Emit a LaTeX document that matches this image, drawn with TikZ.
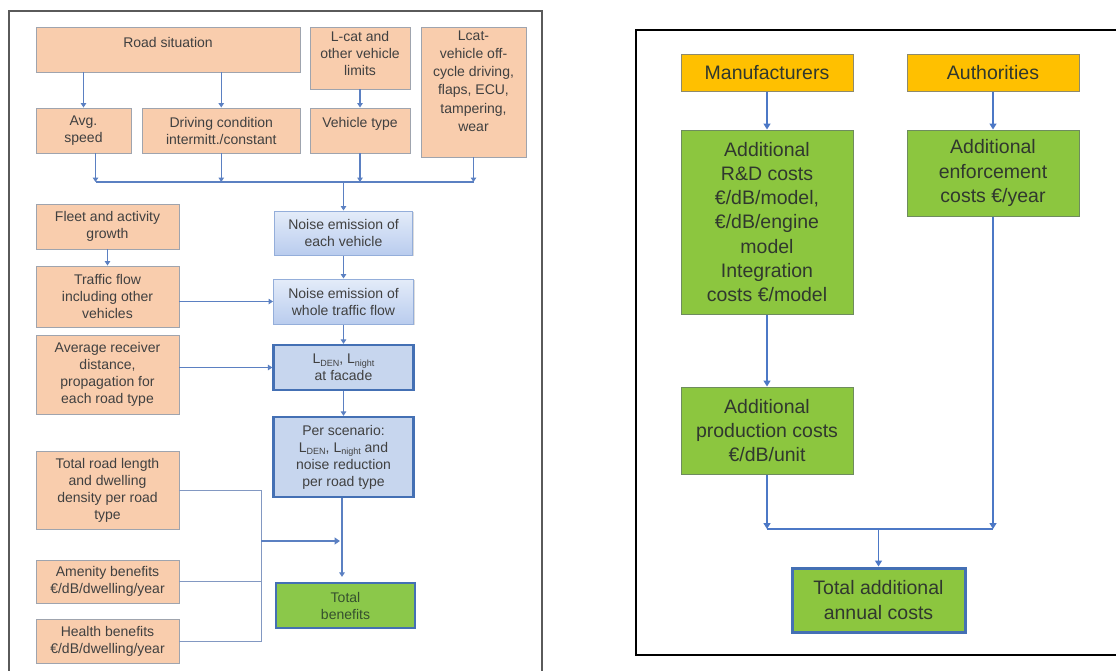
\documentclass[tikz,border=0pt]{standalone}
\usepackage{fontspec}
\setmainfont{Liberation Sans}
\usetikzlibrary{arrows.meta,shadows}

\definecolor{peach}{HTML}{F9CDAD}
\definecolor{peachline}{HTML}{9FA4AE}
\definecolor{blueA}{HTML}{E4ECF9}
\definecolor{blueB}{HTML}{B9CCEE}
\definecolor{blueline}{HTML}{94AEDA}
\definecolor{blueC}{HTML}{C7D6EE}
\definecolor{darkblue}{HTML}{4470B4}
\definecolor{greenA}{HTML}{8BC84A}
\definecolor{greenB}{HTML}{8CC63F}
\definecolor{greenline}{HTML}{6E8C5E}
\definecolor{gold}{HTML}{FFC000}
\definecolor{goldline}{HTML}{8E8A6C}
\definecolor{ltext}{HTML}{404040}
\definecolor{gtext}{HTML}{35502E}
\definecolor{rtext}{HTML}{30382E}
\definecolor{lineblue}{HTML}{5B80C2}
\definecolor{mergeblue}{HTML}{8298C2}
\definecolor{rblue}{HTML}{4C78C6}
\definecolor{framegray}{HTML}{5A5A5A}

\newcommand{\lsub}[1]{\raisebox{-0.35ex}{\fontsize{9pt}{9pt}\selectfont #1}}

\tikzset{
  shade/.style={drop shadow={shadow xshift=1.3pt, shadow yshift=-1.3pt, opacity=0.28}},
  ltxt/.style={font=\fontsize{14pt}{17pt}\selectfont, text=ltext, align=center},
  rtxt/.style={font=\fontsize{19.5pt}{24.3pt}\selectfont, text=rtext, align=center},
  pbox/.style={ltxt, draw=peachline, fill=peach, line width=0.9pt, inner sep=0pt, shade},
  nbox/.style={ltxt, draw=blueline, top color=blueA, bottom color=blueB, line width=1pt, inner sep=0pt, shade},
  dbox/.style={ltxt, draw=darkblue, fill=blueC, line width=2.2pt, inner sep=0pt, shade},
  gbox/.style={ltxt, text=gtext, draw=darkblue, fill=greenA, line width=2.2pt, inner sep=0pt, shade},
  obox/.style={rtxt, draw=goldline, fill=gold, line width=1pt, inner sep=0pt, shade},
  grbox/.style={rtxt, draw=greenline, fill=greenB, line width=1pt, inner sep=0pt, shade},
  tbox/.style={rtxt, draw=darkblue, fill=greenB, line width=3pt, inner sep=0pt, shade},
  conn/.style={draw=lineblue, line width=1.1pt},
  thinconn/.style={draw=mergeblue, line width=0.9pt},
  arr/.style={conn, -{Triangle[width=5.5pt,length=4.5pt]}},
  bigarr/.style={draw=lineblue, line width=2pt, -{Triangle[width=7pt,length=5.5pt]}},
  rconn/.style={draw=rblue, line width=1.4pt},
  rarr/.style={rconn, -{Triangle[width=7pt,length=6pt]}},
}

\begin{document}
\begin{tikzpicture}[x=1pt,y=-1pt]
\useasboundingbox (0,0) rectangle (1116,670);
\clip (0,0) rectangle (1116,670);

% panel frames
\draw[framegray, line width=1.2pt] (9,700) -- (9,11) -- (542,11) -- (542,700);
\draw[black, line width=2.2pt] (1140,30) -- (636,30) -- (636,655) -- (1140,655);

% ---------- benefits side ----------
\node[pbox, minimum width=264pt, minimum height=45pt,
  label={[ltxt, anchor=north, inner sep=0pt, yshift=-11pt]north:Road situation}] (road) at (168,49.5) {};
\node[pbox, minimum width=100pt, minimum height=62pt,
  label={[ltxt, anchor=north, inner sep=0pt, yshift=-5pt]north:{L-cat and\\other vehicle\\limits}}] (lcat) at (360,58) {};
\node[pbox, minimum width=105pt, minimum height=130pt,
  label={[ltxt, font=\fontsize{14pt}{18.2pt}\selectfont, anchor=north, inner sep=0pt, yshift=-4pt]north:{Lcat-\\vehicle off-\\cycle driving,\\flaps, ECU,\\tampering,\\wear}}] (lcatv) at (473.5,92) {};
\node[pbox, minimum width=95pt, minimum height=45pt] (avg) at (83.5,130.5) {Avg.\\speed};
\node[pbox, minimum width=157.5pt, minimum height=45pt] (drive) at (221.25,130.5) {Driving condition\\intermitt./constant};
\node[pbox, minimum width=100pt, minimum height=45pt,
  label={[ltxt, anchor=north, inner sep=0pt, yshift=-10pt]north:Vehicle type}] (vtype) at (360,130.5) {};

\node[pbox, minimum width=143pt, minimum height=45pt] (fleet) at (107.5,226.5) {Fleet and activity\\growth};
\node[pbox, minimum width=143pt, minimum height=61pt] (traffic) at (107.5,296.5) {Traffic flow\\including other\\vehicles};
\node[pbox, minimum width=143pt, minimum height=79pt] (recv) at (107.5,374.5) {Average receiver\\distance,\\propagation for\\each road type};
\node[pbox, minimum width=143pt, minimum height=78pt] (troad) at (107.5,490) {Total road length\\and dwelling\\density per road\\type};
\node[pbox, minimum width=143pt, minimum height=43pt] (amen) at (107.5,581.5) {Amenity benefits\\€/dB/dwelling/year};
\node[pbox, minimum width=143pt, minimum height=44pt] (health) at (107.5,641) {Health benefits\\€/dB/dwelling/year};

\node[nbox, minimum width=138pt, minimum height=44pt] (ne1) at (343.5,233) {Noise emission of\\each vehicle};
\node[nbox, minimum width=140pt, minimum height=45pt] (ne2) at (343.5,301.5) {Noise emission of\\whole traffic flow};
\node[dbox, minimum width=140pt, minimum height=45pt] (lden) at (343.5,367.5) {L\lsub{DEN}, L\lsub{night}\\at facade};
\node[dbox, minimum width=140pt, minimum height=80pt] (per) at (343.5,457) {Per scenario:\\L\lsub{DEN}, L\lsub{night} and\\noise reduction\\per road type};
\node[gbox, minimum width=139pt, minimum height=45pt] (tb) at (345.5,605.5) {Total\\benefits};

% top-row connectors
\coordinate (bus) at (0,182);
\coordinate (avgout) at ([xshift=12pt]avg.south);
\draw[arr] (road.south -| avg.north) -- (avg.north);
\draw[arr] (road.south -| drive.north) -- (drive.north);
\draw[arr] (lcat.south) -- (vtype.north);
\draw[arr] (avgout) -- (avgout |- bus);
\draw[arr] (drive.south) -- (drive.south |- bus);
\draw[arr] (vtype.south) -- (vtype.south |- bus);
\draw[arr] (lcatv.south) -- (lcatv.south |- bus);
\draw[conn] (avgout |- bus) -- (lcatv.south |- bus);
\draw[arr] (ne1.north |- bus) -- (ne1.north);

% left column and main chain
\draw[arr] (fleet.south) -- (traffic.north);
\draw[arr] (ne1.south) -- (ne2.north);
\draw[arr] (ne2.south) -- (lden.north);
\draw[arr] (lden.south) -- (per.north);
\draw[arr] ([xshift=-1.5pt]per.south) -- ([xshift=-1.5pt,yshift=5pt]per.south |- tb.north);
\draw[arr] (traffic.east |- ne2.west) -- (ne2.west);
\draw[arr] (recv.east |- lden.west) -- (lden.west);

% benefit inputs merging into the chain
\coordinate (jx) at (261,0);
\coordinate (jmid) at (261,541);
\coordinate (jend) at (340,541);
\draw[thinconn] (troad.east) -| (jx |- health.east) -- (health.east);
\draw[thinconn] (amen.east) -- (amen.east -| jx);
\draw[bigarr] (jmid) -- (jend);

% ---------- costs side ----------
\node[obox, minimum width=172pt, minimum height=37pt] (manu) at (767,72.5) {Manufacturers};
\node[obox, minimum width=172pt, minimum height=37pt] (auth) at (993,72.5) {Authorities};
\node[grbox, minimum width=172pt, minimum height=184pt] (rnd) at (767,222) {Additional\\R\&D costs\\€/dB/model,\\€/dB/engine\\model\\Integration\\costs €/model};
\node[grbox, minimum width=172pt, minimum height=86pt] (enf) at (993,173) {Additional\\enforcement\\costs €/year};
\node[grbox, minimum width=172pt, minimum height=87pt] (prod) at (767,430.5) {Additional\\production costs\\€/dB/unit};
\node[tbox, minimum width=173pt, minimum height=64pt] (tot) at (878.5,600) {Total additional\\annual costs};

\coordinate (rbus) at (0,529);
\draw[rarr] (manu.south) -- (rnd.north);
\draw[rarr] (auth.south) -- (enf.north);
\draw[rarr] (rnd.south) -- (prod.north);
\draw[rarr] (prod.south) -- (prod.south |- rbus);
\draw[rarr] (enf.south) -- (enf.south |- rbus);
\draw[rconn] (prod.south |- rbus) -- (enf.south |- rbus);
\draw[rarr] (tot.north |- rbus) -- (tot.north);
\end{tikzpicture}
\end{document}
